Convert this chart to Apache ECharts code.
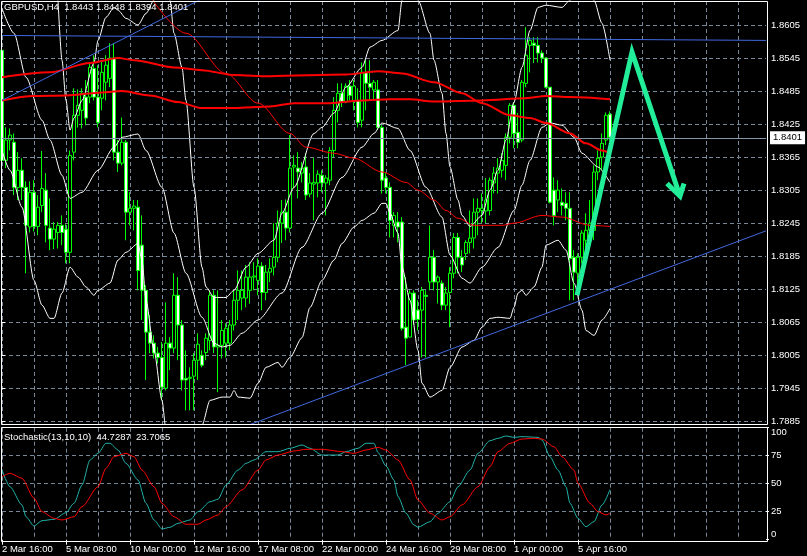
<!DOCTYPE html>
<html><head><meta charset="utf-8">
<script src="https://cdn.jsdelivr.net/npm/echarts/dist/echarts.min.js"></script>
<style>html,body{margin:0;padding:0;background:#000;}#c{width:807px;height:556px;}</style>
</head><body><div id="c"></div>
<script>
// ---------- DATA ----------
const symbol = 'GBPUSD';
const timeframe = 'H4';
const tickLabels = ['2 Mar 16:00','5 Mar 08:00','10 Mar 00:00','12 Mar 16:00','17 Mar 08:00','22 Mar 00:00','24 Mar 16:00','29 Mar 08:00','1 Apr 00:00','5 Apr 16:00'];
const priceTicksFrom = 1.7885, priceTicksTo = 1.8605, priceTickStep = 0.006;
const stochTicks = [0, 25, 50, 75, 100];

const candleOpen = [1.8559,1.8359,1.8396,1.8392,1.8310,1.8341,1.8310,1.8238,1.8301,1.8239,
1.8277,1.8305,1.8236,1.8216,1.8228,1.8241,1.8234,1.8192,1.8374,1.8441,
1.8450,1.8474,1.8474,1.8526,1.8474,1.8472,1.8501,1.8508,1.8545,1.8374,
1.8354,1.8392,1.8265,1.8272,1.8274,1.8205,1.8123,1.8047,1.8027,1.8009,
1.8001,1.7945,1.8027,1.8018,1.8114,1.8060,1.7963,1.7963,1.7967,1.7996,
1.8005,1.8010,1.8032,1.8114,1.8020,1.8023,1.8027,1.8027,1.8060,1.8105,
1.8109,1.8109,1.8123,1.8147,1.8141,1.8167,1.8119,1.8156,1.8165,1.8183,
1.8245,1.8265,1.8236,1.8347,1.8345,1.8336,1.8347,1.8298,1.8316,1.8318,
1.8332,1.8318,1.8323,1.8377,1.8450,1.8481,1.8465,1.8494,1.8467,1.8468,
1.8432,1.8519,1.8499,1.8487,1.8487,1.8419,1.8327,1.8310,1.8241,1.8247,
1.8247,1.8056,1.8038,1.8118,1.8087,1.8087,1.8114,1.8138,1.8183,1.8138,
1.8136,1.8096,1.8119,1.8154,1.8219,1.8183,1.8190,1.8210,1.8218,1.8265,
1.8268,1.8267,1.8268,1.8318,1.8336,1.8341,1.8350,1.8401,1.8459,1.8410,
1.8396,1.8499,1.8568,1.8572,1.8568,1.8554,1.8545,1.8492,1.8305,1.8287,
1.8283,1.8281,1.8272,1.8183,1.8154,1.8183,1.8214,1.8232,1.8232,1.8338,
1.8365,1.8396,1.8443];
const candleHigh = [1.8579,1.8419,1.8417,1.8408,1.8374,1.8363,1.8321,1.8321,1.8323,1.8296,
1.8376,1.8336,1.8290,1.8247,1.8247,1.8259,1.8243,1.8377,1.8490,1.8488,
1.8490,1.8505,1.8536,1.8550,1.8532,1.8541,1.8550,1.8572,1.8572,1.8396,
1.8437,1.8396,1.8301,1.8287,1.8287,1.8259,1.8132,1.8078,1.8041,1.8020,
1.8029,1.8101,1.8038,1.8154,1.8147,1.8069,1.8014,1.7983,1.8009,1.8045,
1.8014,1.8045,1.8123,1.8123,1.8123,1.8069,1.8063,1.8069,1.8123,1.8159,
1.8159,1.8169,1.8174,1.8174,1.8181,1.8174,1.8169,1.8181,1.8245,1.8268,
1.8287,1.8288,1.8405,1.8368,1.8374,1.8356,1.8372,1.8336,1.8363,1.8341,
1.8341,1.8332,1.8383,1.8474,1.8499,1.8499,1.8499,1.8505,1.8505,1.8490,
1.8537,1.8541,1.8541,1.8505,1.8505,1.8423,1.8336,1.8319,1.8265,1.8265,
1.8256,1.8147,1.8123,1.8123,1.8105,1.8129,1.8123,1.8241,1.8196,1.8150,
1.8141,1.8129,1.8165,1.8227,1.8227,1.8196,1.8214,1.8268,1.8290,1.8290,
1.8299,1.8327,1.8328,1.8347,1.8363,1.8372,1.8408,1.8463,1.8465,1.8445,
1.8505,1.8601,1.8583,1.8583,1.8583,1.8559,1.8546,1.8492,1.8328,1.8323,
1.8308,1.8301,1.8301,1.8196,1.8190,1.8232,1.8263,1.8287,1.8350,1.8377,
1.8408,1.8446,1.8448];
const candleLow = [1.8345,1.8345,1.8377,1.8296,1.8287,1.8287,1.8154,1.8228,1.8230,1.8223,
1.8265,1.8210,1.8196,1.8198,1.8199,1.8205,1.8172,1.8172,1.8359,1.8419,
1.8417,1.8423,1.8463,1.8468,1.8419,1.8450,1.8468,1.8492,1.8359,1.8338,
1.8350,1.8214,1.8241,1.8232,1.8123,1.8069,1.7960,1.8009,1.7999,1.7990,
1.7923,1.7941,1.7978,1.8009,1.7996,1.7941,1.7905,1.7905,1.7905,1.7960,
1.7983,1.7996,1.8014,1.8009,1.7938,1.7999,1.8001,1.8014,1.8050,1.8069,
1.8087,1.8092,1.8099,1.8123,1.8114,1.8087,1.8105,1.8138,1.8150,1.8174,
1.8209,1.8214,1.8228,1.8308,1.8290,1.8319,1.8287,1.8292,1.8250,1.8292,
1.8301,1.8259,1.8314,1.8365,1.8428,1.8456,1.8463,1.8468,1.8450,1.8419,
1.8419,1.8450,1.8468,1.8468,1.8414,1.8299,1.8299,1.8219,1.8219,1.8210,
1.8050,1.7987,1.8038,1.8060,1.8050,1.8001,1.8001,1.8123,1.8123,1.8099,
1.8087,1.8087,1.8056,1.8145,1.8154,1.8156,1.8178,1.8190,1.8199,1.8223,
1.8245,1.8245,1.8259,1.8299,1.8299,1.8328,1.8323,1.8390,1.8381,1.8381,
1.8392,1.8492,1.8519,1.8536,1.8537,1.8536,1.8490,1.8281,1.8241,1.8265,
1.8259,1.8250,1.8105,1.8105,1.8119,1.8172,1.8192,1.8205,1.8214,1.8323,
1.8341,1.8387,1.8394];
const candleClose = [1.8359,1.8396,1.8405,1.8310,1.8341,1.8310,1.8241,1.8301,1.8239,1.8274,
1.8308,1.8241,1.8216,1.8234,1.8241,1.8228,1.8192,1.8368,1.8441,1.8459,
1.8481,1.8436,1.8528,1.8474,1.8428,1.8519,1.8532,1.8545,1.8374,1.8354,
1.8392,1.8265,1.8272,1.8276,1.8159,1.8123,1.8047,1.8027,1.8009,1.8001,
1.7947,1.8027,1.8018,1.8114,1.8060,1.7960,1.7960,1.7965,1.7996,1.8025,
1.7987,1.8036,1.8114,1.8020,1.8023,1.8050,1.8054,1.8060,1.8105,1.8123,
1.8123,1.8147,1.8147,1.8149,1.8167,1.8119,1.8156,1.8163,1.8183,1.8245,
1.8265,1.8236,1.8345,1.8350,1.8338,1.8345,1.8296,1.8318,1.8319,1.8334,
1.8318,1.8327,1.8377,1.8450,1.8481,1.8465,1.8494,1.8477,1.8494,1.8428,
1.8519,1.8499,1.8492,1.8501,1.8419,1.8323,1.8310,1.8250,1.8259,1.8238,
1.8054,1.8036,1.8118,1.8069,1.8070,1.8123,1.8112,1.8183,1.8138,1.8147,
1.8096,1.8118,1.8154,1.8219,1.8183,1.8169,1.8210,1.8218,1.8265,1.8272,
1.8272,1.8287,1.8323,1.8336,1.8345,1.8359,1.8401,1.8459,1.8408,1.8392,
1.8501,1.8550,1.8577,1.8568,1.8554,1.8545,1.8492,1.8283,1.8259,1.8305,
1.8277,1.8272,1.8181,1.8156,1.8183,1.8227,1.8232,1.8245,1.8338,1.8363,
1.8390,1.8441,1.8401];

// Bollinger-style envelope (white), read at bar positions
const bbUpperBars = [14,15,16,17,18,20,23,24,26,28,29,31,34,36,38,40,42,43,45,46,48,50,51,53,56,58,61,64,68,70,73,78,80,83,86,90,92,95,99,100,102,104,107,108,110,111,112,114,115,117,120,122,124,126,128,130,132,134,136,140,142,145,148,150,152];
const bbUpper = [1.8650,1.8541,1.8468,1.8414,1.8436,1.8468,1.8536,1.8577,1.8619,1.8637,1.8632,1.8617,1.8605,1.8626,1.8650,1.8677,1.8650,1.8590,1.8528,1.8468,1.8310,1.8165,1.8129,1.8110,1.8110,1.8123,1.8165,1.8190,1.8214,1.8263,1.8310,1.8408,1.8419,1.8445,1.8492,1.8528,1.8565,1.8577,1.8595,1.8650,1.8668,1.8650,1.8590,1.8541,1.8481,1.8408,1.8347,1.8287,1.8259,1.8239,1.8259,1.8305,1.8341,1.8396,1.8465,1.8528,1.8595,1.8637,1.8641,1.8637,1.8650,1.8668,1.8650,1.8608,1.8541];
const bbMiddleBars = [0,3,6,10,12,15,17,20,24,28,30,34,36,40,43,46,50,53,55,57,60,64,70,75,80,85,90,93,95,99,102,106,110,112,115,117,120,124,128,130,132,135,137,140,143,145,149,152];
const bbMiddle = [1.8635,1.8590,1.8510,1.8432,1.8396,1.8332,1.8290,1.8301,1.8341,1.8383,1.8401,1.8407,1.8377,1.8310,1.8227,1.8154,1.8074,1.8027,1.8020,1.8023,1.8045,1.8069,1.8118,1.8201,1.8263,1.8328,1.8383,1.8408,1.8427,1.8417,1.8377,1.8310,1.8256,1.8187,1.8145,1.8136,1.8165,1.8201,1.8268,1.8314,1.8359,1.8419,1.8427,1.8423,1.8401,1.8372,1.8347,1.8319];
const bbLowerBars = [0,2,5,8,10,12,13,15,17,19,21,23,24,27,29,31,34,35,36,38,40,41,43,46,49,50,52,55,57,58,59,62,64,66,69,70,72,75,77,80,83,85,88,90,93,95,96,97,99,100,102,104,105,107,110,112,115,118,120,122,124,127,128,129,130,131,133,135,136,139,141,143,145,146,148,150,152];
const bbLower = [1.8377,1.8341,1.8274,1.8141,1.8096,1.8072,1.8072,1.8118,1.8165,1.8147,1.8129,1.8114,1.8123,1.8136,1.8178,1.8192,1.8208,1.8178,1.8105,1.8014,1.7923,1.7869,1.7850,1.7832,1.7850,1.7878,1.7923,1.7929,1.7929,1.7941,1.7929,1.7927,1.7954,1.7983,1.7992,1.7983,1.8001,1.8037,1.8092,1.8141,1.8178,1.8208,1.8238,1.8250,1.8263,1.8281,1.8281,1.8263,1.8227,1.8165,1.8105,1.8014,1.7954,1.7929,1.7941,1.7983,1.8020,1.8032,1.8056,1.8072,1.8074,1.8072,1.8092,1.8118,1.8123,1.8114,1.8129,1.8165,1.8205,1.8214,1.8196,1.8136,1.8087,1.8050,1.8041,1.8069,1.8090];

// moving averages (red)
const maSlowBars = [0,12,22,29,33,43,50,58,67,86,94,100,108,115,120,127,132,136,142,146,150,152];
const maSlow = [1.8510,1.8519,1.8536,1.8545,1.8541,1.8528,1.8523,1.8514,1.8512,1.8515,1.8521,1.8517,1.8501,1.8481,1.8463,1.8441,1.8436,1.8427,1.8408,1.8390,1.8377,1.8372];
const maLongBars = [0,8,16,26,30,37,44,50,58,67,73,82,90,97,102,108,120,131,136,142,152];
const maLong = [1.8468,1.8476,1.8477,1.8483,1.8485,1.8477,1.8465,1.8454,1.8454,1.8457,1.8463,1.8463,1.8468,1.8470,1.8470,1.8466,1.8468,1.8472,1.8476,1.8474,1.8470];
const maFastBars = [37,46,56,64,72,76,83,88,95,101,104,108,111,114,118,125,128,135,140,147,152];
const maFast = [1.8657,1.8590,1.8517,1.8463,1.8408,1.8383,1.8372,1.8363,1.8338,1.8319,1.8305,1.8287,1.8268,1.8254,1.8241,1.8241,1.8245,1.8259,1.8256,1.8241,1.8239];

// trend lines (blue), two anchors each
const trendTopBars = [0, 191], trendTop = [1.8586, 1.8577];
const trendRiseBars = [0, 52], trendRise = [1.8468, 1.8660];
const trendSupportBars = [62, 191], trendSupport = [1.7879, 1.8231];

// forecast arrow (green)
const arrowBars = [143.75, 157.5, 169.5], arrowPrices = [1.8114, 1.8556, 1.8294];
const arrowHeadBars = [166.25, 169.5, 170.5], arrowHeadPrices = [1.8317, 1.8294, 1.8317];

// stochastic
const stochParams = [13, 10, 10];
const stochKBars = [0,2,5,6,8,10,13,16,18,20,22,24,26,27,29,31,34,36,38,40,42,44,47,49,52,54,56,59,61,63,66,69,72,75,77,80,84,86,89,91,93,94,96,98,99,101,103,104,107,109,112,114,117,119,122,124,126,128,130,134,135,137,139,141,142,144,146,148,150,152];
const stochK = [62.2,47.3,31.0,20.5,12.2,17.0,18.2,24.1,32.5,48.8,71.2,77.1,86.1,86.1,80.1,68.2,53.3,32.5,17.6,9.6,11.1,14.6,17.6,25.0,33.9,36.1,48.8,62.2,68.2,71.2,78.6,78.6,81.6,84.6,81.6,75.6,75.6,78.6,81.6,86.1,86.1,77.9,65.8,53.3,38.4,23.6,13.1,11.1,16.1,23.6,33.9,47.3,62.2,77.1,88.4,90.5,92.6,91.4,92.0,91.4,89.0,74.1,62.2,47.3,32.5,19.1,11.6,16.1,31.0,44.7287];
const stochDBars = [0,2,5,8,10,13,15,18,20,24,26,28,31,33,35,38,40,43,46,49,51,54,56,60,64,66,69,73,76,80,85,88,91,94,96,99,102,104,107,110,112,115,119,122,124,127,130,133,135,138,140,143,144,147,149,151,152];
const stochD = [56.3,59.3,54.8,37.0,25.0,19.1,17.6,20.5,29.5,47.3,63.8,74.1,77.1,74.1,62.2,47.3,32.5,20.5,13.8,13.8,17.6,22.1,29.5,44.4,62.2,71.2,75.6,79.2,80.7,80.7,78.6,77.1,80.1,82.5,80.1,71.2,53.3,35.4,23.6,17.6,20.5,31.0,47.3,65.2,78.6,86.1,89.9,90.5,89.9,83.0,74.1,62.2,50.4,32.5,25.0,22.1,23.7065];

// ---------- CHART ----------
const SLOTS = 192;
const slots = Array.from({length: SLOTS}, (_, i) => String(i));
const pairs = (xs, ys) => xs.map((x, k) => [x, ys[k]]);
const last = candleClose.length - 1;
const f4 = v => v.toFixed(4);
const FONT = 'Liberation Sans';
const FS = 9.5;
const gridColor = '#778899';
const dash = {color: gridColor, type: [4, 3], width: 1};
const priceMin = 1.78801, priceMax = 1.86486;
const labelSpan = Math.round((priceTicksTo - priceTicksFrom) * 1e4) / 1e4;
const labelTick = i => i % 16 === 0 && i / 16 < tickLabels.length;

const ohlc = candleOpen.map((o, i) => [o, candleClose[i], candleLow[i], candleHigh[i]]);

function overlay(name, xs, ys, color, width, smooth, z) {
  return {name, type: 'line', xAxisIndex: 2, yAxisIndex: 0, data: pairs(xs, ys),
    symbol: 'none', showSymbol: false, smooth: smooth, smoothMonotone: 'x', silent: true,
    lineStyle: {color, width}, z: z || 3, animation: false};
}

const option = {
  backgroundColor: '#000000',
  animation: false,
  textStyle: {fontFamily: FONT},
  title: [
    {text: `${symbol},${timeframe}  ${f4(candleOpen[last])} ${f4(candleHigh[last])} ${f4(candleLow[last])} ${f4(candleClose[last])}`,
     left: 4, top: 2, padding: 0, textStyle: {color: '#ffffff', fontSize: FS, fontWeight: 'normal', fontFamily: FONT}},
    {text: `Stochastic(${stochParams.join(',')})  ${f4(stochK[stochK.length-1])}  ${f4(stochD[stochD.length-1])}`,
     left: 4, top: 432, padding: 0, textStyle: {color: '#ffffff', fontSize: FS, fontWeight: 'normal', fontFamily: FONT}}
  ],
  grid: [
    {left: 2, top: 1, width: 764, height: 423, outerBoundsMode: 'none'},
    {left: 2, top: 25, width: 764, height: 396.3, outerBoundsMode: 'none'},
    {left: 2, top: 427.7, width: 764, height: 112, outerBoundsMode: 'none'}
  ],
  xAxis: [
    {type: 'category', gridIndex: 0, data: slots, boundaryGap: false,
     axisLine: {show: false}, axisTick: {show: false}, axisLabel: {show: false},
     splitLine: {show: true, interval: 7, lineStyle: dash}},
    {type: 'category', gridIndex: 2, data: slots, boundaryGap: false,
     axisLine: {show: false},
     axisTick: {show: true, interval: labelTick, length: 5, lineStyle: {color: '#ffffff'}},
     axisLabel: {show: true, interval: labelTick, align: 'left', margin: 5, color: '#ffffff', fontSize: FS, fontFamily: FONT,
       formatter: (v, i) => labelTick(i) ? tickLabels[i / 16] : ''},
     splitLine: {show: true, interval: 7, lineStyle: dash}},
    {type: 'value', gridIndex: 0, min: 0, max: SLOTS - 1, show: false, position: 'top'},
    {type: 'value', gridIndex: 1, min: 0, max: 1, show: false}
  ],
  yAxis: [
    {type: 'value', gridIndex: 0, min: priceMin, max: priceMax, show: false, splitLine: {show: false}},
    {type: 'value', gridIndex: 1, position: 'right', min: 0, max: labelSpan, interval: priceTickStep,
     axisLine: {show: false},
     axisTick: {show: true, length: 3, lineStyle: {color: '#ffffff'}},
     axisLabel: {show: true, margin: 5, color: '#ffffff', fontSize: FS, fontFamily: FONT,
       formatter: v => (v + priceTicksFrom).toFixed(4)},
     splitLine: {show: true, lineStyle: dash}},
    {type: 'value', gridIndex: 2, position: 'right', min: stochTicks[0], max: stochTicks[stochTicks.length-1], interval: stochTicks[1] - stochTicks[0],
     axisLine: {show: false},
     axisTick: {show: true, length: 3, lineStyle: {color: '#ffffff'}},
     axisLabel: {show: true, margin: 5, color: '#ffffff', fontSize: FS, fontFamily: FONT,
       verticalAlignMinLabel: 'bottom', verticalAlignMaxLabel: 'top'},
     splitLine: {show: true, showMinLine: false, showMaxLine: false, lineStyle: dash}}
  ],
  series: [
    {name: 'price', type: 'candlestick', xAxisIndex: 0, yAxisIndex: 0, data: ohlc, barWidth: 3, clip: false, z: 2,
     itemStyle: {color: '#000000', color0: '#ffffff', borderColor: '#00ff00', borderColor0: '#00ff00', borderWidth: 1},
     silent: true,
     markLine: {silent: true, symbol: ['none', 'none'], animation: false,
       lineStyle: {color: '#8797aa', type: 'solid', width: 1},
       label: {show: true, position: 'end', distance: 4, formatter: () => f4(candleClose[last]),
         backgroundColor: '#ffffff', color: '#000000', padding: [2, 3, 1, 3], fontSize: FS, fontFamily: FONT},
       data: [{yAxis: candleClose[last]}]}},
    overlay('bbUpper', bbUpperBars, bbUpper, '#ffffff', 1, 0.25),
    overlay('bbMiddle', bbMiddleBars, bbMiddle, '#ffffff', 1, 0.25),
    overlay('bbLower', bbLowerBars, bbLower, '#ffffff', 1, 0.25),
    overlay('maSlow', maSlowBars, maSlow, '#ff0000', 2, 0.3),
    overlay('maLong', maLongBars, maLong, '#ff0000', 2, 0.3),
    overlay('maFast', maFastBars, maFast, '#ff0000', 1, 0.3),
    overlay('trendTop', trendTopBars, trendTop, '#4169e1', 1, false, 4),
    overlay('trendRise', trendRiseBars, trendRise, '#4169e1', 1, false, 4),
    overlay('trendSupport', trendSupportBars, trendSupport, '#4169e1', 1, false, 4),
    Object.assign(overlay('arrow', arrowBars, arrowPrices, '#22ee99', 5, false, 5), {lineStyle: {color: '#22ee99', width: 5, join: 'miter', cap: 'butt'}}),
    Object.assign(overlay('arrowHead', arrowHeadBars, arrowHeadPrices, '#22ee99', 5, false, 5), {lineStyle: {color: '#22ee99', width: 5, join: 'miter', cap: 'butt'}}),
    {name: 'stochK', type: 'line', xAxisIndex: 1, yAxisIndex: 2, data: pairs(stochKBars, stochK), symbol: 'none',
     smooth: 0.25, smoothMonotone: 'x', lineStyle: {color: '#20b2aa', width: 1}, silent: true, z: 3},
    {name: 'stochD', type: 'line', xAxisIndex: 1, yAxisIndex: 2, data: pairs(stochDBars, stochD), symbol: 'none',
     smooth: 0.25, smoothMonotone: 'x', lineStyle: {color: '#ff0000', width: 1}, silent: true, z: 3}
  ],
  graphic: [
    {type: 'rect', z: 100, silent: true, shape: {x: 1.5, y: 1.5, width: 766, height: 423}, style: {fill: null, stroke: '#ffffff', lineWidth: 1}},
    {type: 'rect', z: 100, silent: true, shape: {x: 1.5, y: 427.5, width: 766, height: 114}, style: {fill: null, stroke: '#ffffff', lineWidth: 1}}
  ]
};

const chart = echarts.init(document.getElementById('c'), null, {renderer: 'canvas'});
chart.setOption(option);
</script></body></html>
